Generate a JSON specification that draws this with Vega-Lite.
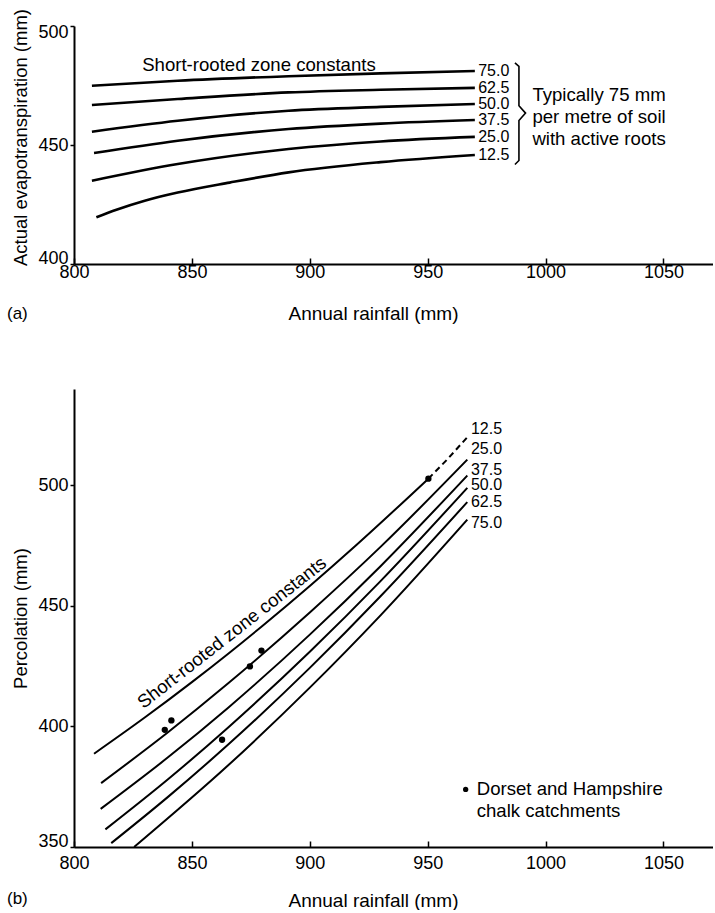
{
  "$schema": "https://vega.github.io/schema/vega-lite/v6.json",
  "background": "white",
  "padding": {"left": 6, "top": 8, "right": 0, "bottom": 0},
  "config": {"view": {"stroke": null}, "font": "Liberation Sans", "title": {"font": "Liberation Sans"}},
  "spacing": 66,
  "datasets": {
    "topCurves": [
      {"s": "75.0", "x": 807.6, "y": 474.9}, {"s": "75.0", "x": 844, "y": 477.0}, {"s": "75.0", "x": 891, "y": 478.9}, {"s": "75.0", "x": 930, "y": 480.1}, {"s": "75.0", "x": 970, "y": 481.1},
      {"s": "62.5", "x": 807.6, "y": 466.8}, {"s": "62.5", "x": 844, "y": 469.3}, {"s": "62.5", "x": 891, "y": 472.1}, {"s": "62.5", "x": 930, "y": 473.2}, {"s": "62.5", "x": 970, "y": 474.0},
      {"s": "50.0", "x": 807.6, "y": 455.6}, {"s": "50.0", "x": 844, "y": 460.2}, {"s": "50.0", "x": 891, "y": 464.4}, {"s": "50.0", "x": 930, "y": 466.0}, {"s": "50.0", "x": 970, "y": 467.2},
      {"s": "37.5", "x": 808.5, "y": 446.6}, {"s": "37.5", "x": 844, "y": 451.8}, {"s": "37.5", "x": 891, "y": 456.7}, {"s": "37.5", "x": 930, "y": 459.0}, {"s": "37.5", "x": 970, "y": 460.5},
      {"s": "25.0", "x": 807.6, "y": 435.0}, {"s": "25.0", "x": 844, "y": 442.0}, {"s": "25.0", "x": 891, "y": 448.3}, {"s": "25.0", "x": 930, "y": 451.5}, {"s": "25.0", "x": 970, "y": 453.4},
      {"s": "12.5", "x": 809.5, "y": 419.6}, {"s": "12.5", "x": 818, "y": 422.8}, {"s": "12.5", "x": 830, "y": 426.6}, {"s": "12.5", "x": 844, "y": 430.0}, {"s": "12.5", "x": 866, "y": 434.2}, {"s": "12.5", "x": 891, "y": 438.5}, {"s": "12.5", "x": 930, "y": 442.8}, {"s": "12.5", "x": 970, "y": 445.8}
    ],
    "topLabels": [
      {"t": "75.0", "x": 971, "y": 481.1}, {"t": "62.5", "x": 971, "y": 474.0}, {"t": "50.0", "x": 971, "y": 467.2},
      {"t": "37.5", "x": 971, "y": 460.5}, {"t": "25.0", "x": 971, "y": 453.4}, {"t": "12.5", "x": 971, "y": 445.8}
    ],
    "brace": [
      {"o": 1, "x": 987.0, "y": 484.5}, {"o": 2, "x": 988.7, "y": 483.0}, {"o": 3, "x": 988.7, "y": 466.5},
      {"o": 4, "x": 991.5, "y": 463.4}, {"o": 5, "x": 988.7, "y": 460.3}, {"o": 6, "x": 988.7, "y": 443.5}, {"o": 7, "x": 987.0, "y": 441.8}
    ],
    "topText": [
      {"t": "Short-rooted zone constants", "x": 828.9, "y": 480.9},
      {"t": "Typically 75 mm", "x": 994.4, "y": 468.6},
      {"t": "per metre of soil", "x": 994.4, "y": 459.1},
      {"t": "with active roots", "x": 994.4, "y": 450.2}
    ],
    "botCurves": [
      {"s": "12.5", "x": 808.5, "y": 388.7}, {"s": "12.5", "x": 830, "y": 403.7}, {"s": "12.5", "x": 850, "y": 418.4}, {"s": "12.5", "x": 865.4, "y": 430.2}, {"s": "12.5", "x": 880, "y": 441.8}, {"s": "12.5", "x": 900, "y": 458.3}, {"s": "12.5", "x": 920, "y": 475.5}, {"s": "12.5", "x": 950.3, "y": 502.8},
      {"s": "25.0", "x": 811.5, "y": 376.5}, {"s": "25.0", "x": 840, "y": 397.7}, {"s": "25.0", "x": 865.4, "y": 417.9}, {"s": "25.0", "x": 900, "y": 447.3}, {"s": "25.0", "x": 930, "y": 474.5}, {"s": "25.0", "x": 966.8, "y": 510.7},
      {"s": "37.5", "x": 811.3, "y": 365.8}, {"s": "37.5", "x": 840, "y": 387.3}, {"s": "37.5", "x": 865.4, "y": 407.8}, {"s": "37.5", "x": 900, "y": 438.1}, {"s": "37.5", "x": 930, "y": 466.5}, {"s": "37.5", "x": 966.8, "y": 504.1},
      {"s": "50.0", "x": 813.3, "y": 357.3}, {"s": "50.0", "x": 840, "y": 378.2}, {"s": "50.0", "x": 865.4, "y": 399.6}, {"s": "50.0", "x": 900, "y": 431.0}, {"s": "50.0", "x": 930, "y": 460.3}, {"s": "50.0", "x": 966.8, "y": 499.0},
      {"s": "62.5", "x": 815.8, "y": 351.6}, {"s": "62.5", "x": 840, "y": 370.9}, {"s": "62.5", "x": 865.4, "y": 392.5}, {"s": "62.5", "x": 900, "y": 424.3}, {"s": "62.5", "x": 930, "y": 454.0}, {"s": "62.5", "x": 966.8, "y": 493.1},
      {"s": "75.0", "x": 825.5, "y": 350.0}, {"s": "75.0", "x": 865.4, "y": 383.9}, {"s": "75.0", "x": 900, "y": 416.1}, {"s": "75.0", "x": 930, "y": 446.1}, {"s": "75.0", "x": 966.8, "y": 485.8}
    ],
    "botDashed": [
      {"x": 950.3, "y": 502.8}, {"x": 958.5, "y": 511.0}, {"x": 966.8, "y": 520.0}
    ],
    "botPoints": [
      {"x": 838.5, "y": 398.6}, {"x": 841.3, "y": 402.5}, {"x": 874.6, "y": 424.9},
      {"x": 879.5, "y": 431.5}, {"x": 862.8, "y": 394.5}, {"x": 950.3, "y": 502.8}
    ],
    "botLabels": [
      {"t": "12.5", "x": 967.5, "y": 523.2}, {"t": "25.0", "x": 967.5, "y": 515.0}, {"t": "37.5", "x": 967.5, "y": 506.6},
      {"t": "50.0", "x": 967.5, "y": 500.0}, {"t": "62.5", "x": 967.5, "y": 493.0}, {"t": "75.0", "x": 967.5, "y": 484.6}
    ],
    "botRot": [{"t": "Short-rooted zone constants", "x": 868.5, "y": 437.0}],
    "legendDot": [{"x": 966.1, "y": 373.9}],
    "legendText": [
      {"t": "Dorset and Hampshire", "x": 970.8, "y": 373.9},
      {"t": "chalk catchments", "x": 970.8, "y": 364.9}
    ]
  },
  "vconcat": [
    {
      "width": 639,
      "height": 238,
      "title": {"text": "(a)", "orient": "bottom", "anchor": "start", "frame": "bounds", "offset": -17, "dx": -5, "fontSize": 17, "fontWeight": "normal", "color": "black"},
      "encoding": {
        "x": {"field": "x", "type": "quantitative", "scale": {"domain": [800, 1071], "nice": false, "zero": false},
          "axis": {"title": "Annual rainfall (mm)", "values": [800, 850, 900, 950, 1000, 1050], "format": "d", "grid": false, "labelFlush": false, "tickSize": -6, "labelPadding": 5, "labelFontSize": 18, "titleFontSize": 19, "titleFontWeight": "normal", "titlePadding": 23, "titleX": 299, "domainWidth": 2, "domainColor": "black", "tickColor": "black", "tickWidth": 1.5, "labelColor": "black", "titleColor": "black"}},
        "y": {"field": "y", "type": "quantitative", "scale": {"domain": [400, 500], "nice": false, "zero": false},
          "axis": {"title": "Actual evapotranspiration (mm)", "values": [400, 450, 500], "grid": false, "tickSize": 4, "labelPadding": 2, "labelFontSize": 18, "labelFlush": true, "labelFlushOffset": 3, "titleFontSize": 18.5, "titleFontWeight": "normal", "titlePadding": 7, "titleY": 111, "domainWidth": 2, "domainColor": "black", "tickColor": "black", "tickWidth": 1.5, "labelColor": "black", "titleColor": "black"}}
      },
      "layer": [
        {"data": {"name": "topCurves"}, "mark": {"type": "line", "interpolate": "monotone", "strokeWidth": 2.6, "color": "black"}, "encoding": {"detail": {"field": "s"}}},
        {"data": {"values": [{}]}, "mark": {"type": "rule", "strokeWidth": 2, "color": "black"}, "encoding": {"x": {"datum": 800}, "x2": {"datum": 1071}, "y": {"datum": 500}}},
        {"data": {"name": "topLabels"}, "mark": {"type": "text", "align": "left", "baseline": "middle", "fontSize": 16, "dx": 1, "color": "black"}, "encoding": {"text": {"field": "t"}}},
        {"data": {"name": "brace"}, "mark": {"type": "line", "strokeWidth": 1.6, "color": "black"}, "encoding": {"order": {"field": "o"}}},
        {"data": {"name": "topText"}, "mark": {"type": "text", "align": "left", "baseline": "alphabetic", "fontSize": 18.6, "color": "black"}, "encoding": {"text": {"field": "t"}}}
      ]
    },
    {
      "width": 639,
      "height": 458,
      "title": {"text": "(b)", "orient": "bottom", "anchor": "start", "frame": "bounds", "offset": -19, "dx": -5, "fontSize": 17, "fontWeight": "normal", "color": "black"},
      "encoding": {
        "x": {"field": "x", "type": "quantitative", "scale": {"domain": [800, 1071], "nice": false, "zero": false},
          "axis": {"title": "Annual rainfall (mm)", "values": [800, 850, 900, 950, 1000, 1050], "format": "d", "grid": false, "labelFlush": false, "tickSize": -6, "labelPadding": 13, "labelFontSize": 18, "titleFontSize": 19, "titleFontWeight": "normal", "titlePadding": 19, "titleX": 299, "domainWidth": 2, "domainColor": "black", "tickColor": "black", "tickWidth": 1.5, "labelColor": "black", "titleColor": "black"}},
        "y": {"field": "y", "type": "quantitative", "scale": {"domain": [350, 540], "nice": false, "zero": false},
          "axis": {"title": "Percolation (mm)", "values": [350, 400, 450, 500], "grid": false, "tickSize": 4, "labelPadding": 2, "labelFontSize": 18, "labelFlush": true, "labelFlushOffset": 3, "titleFontSize": 18.5, "titleFontWeight": "normal", "titlePadding": 7, "domainWidth": 2, "domainColor": "black", "tickColor": "black", "tickWidth": 1.5, "labelColor": "black", "titleColor": "black"}}
      },
      "layer": [
        {"data": {"name": "botCurves"}, "mark": {"type": "line", "interpolate": "monotone", "strokeWidth": 2, "color": "black"}, "encoding": {"detail": {"field": "s"}}},
        {"data": {"name": "botDashed"}, "mark": {"type": "line", "strokeWidth": 2, "strokeDash": [6, 4], "color": "black"}, "encoding": {}},
        {"data": {"values": [{}]}, "mark": {"type": "rule", "strokeWidth": 2, "color": "black"}, "encoding": {"x": {"datum": 800}, "x2": {"datum": 1071}, "y": {"datum": 540}}},
        {"data": {"name": "botPoints"}, "mark": {"type": "point", "filled": true, "size": 40, "color": "black", "opacity": 1}, "encoding": {}},
        {"data": {"name": "botLabels"}, "mark": {"type": "text", "align": "left", "baseline": "middle", "fontSize": 16, "dx": 2, "color": "black"}, "encoding": {"text": {"field": "t"}}},
        {"data": {"name": "botRot"}, "mark": {"type": "text", "align": "center", "baseline": "alphabetic", "fontSize": 18.6, "angle": -38, "color": "black"}, "encoding": {"text": {"field": "t"}}},
        {"data": {"name": "legendDot"}, "mark": {"type": "point", "filled": true, "size": 28, "color": "black", "opacity": 1}, "encoding": {}},
        {"data": {"name": "legendText"}, "mark": {"type": "text", "align": "left", "baseline": "middle", "fontSize": 18.6, "color": "black"}, "encoding": {"text": {"field": "t"}}}
      ]
    }
  ]
}
